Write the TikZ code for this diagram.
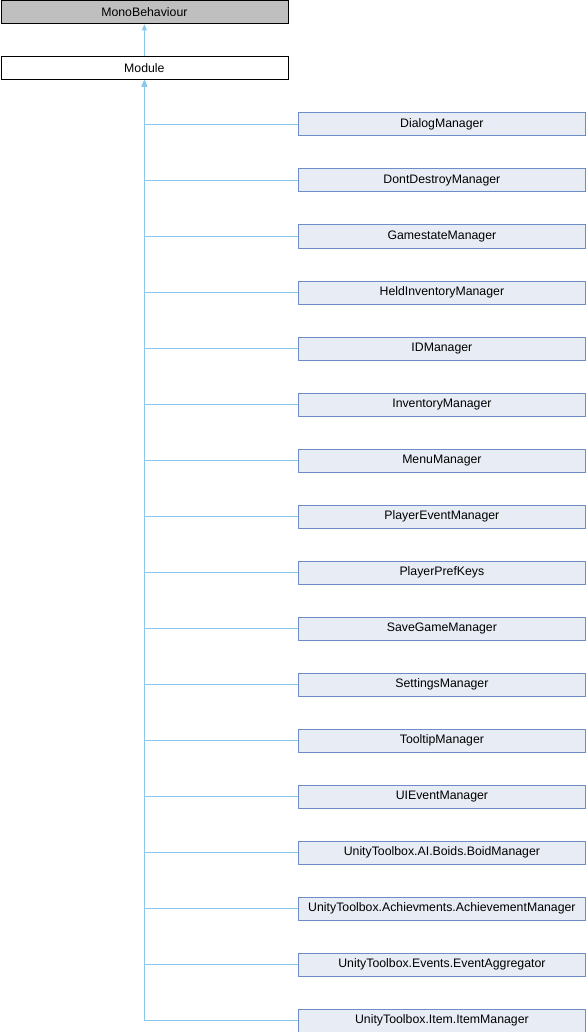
\documentclass[tikz,border=0pt]{standalone}
\usepackage{fontspec}
\setmainfont{Liberation Sans}
\usetikzlibrary{arrows.meta}
\definecolor{edgeblue}{RGB}{140,200,235}
\definecolor{classfill}{RGB}{232,236,244}
\definecolor{classdraw}{RGB}{110,140,200}
\definecolor{basefill}{RGB}{191,191,191}

\begin{document}
\begin{tikzpicture}[x=1pt, y=-1pt,
      every node/.append style={font=\fontsize{12.3}{14}\selectfont, inner sep=0pt,
        minimum width=287pt, minimum height=23pt, anchor=north west},
      inherit/.style={{Triangle[length=6pt,width=5pt]}-, draw=edgeblue, line width=0.8pt}]
    \tikzstyle{base} = [draw=black, fill=basefill, line width=0.8pt]
    \tikzstyle{cls} = [draw=black, fill=white, line width=0.8pt]
    \tikzstyle{derived} = [draw=classdraw, fill=classfill, line width=0.8pt]
    \useasboundingbox (0,0) rectangle (586,1032);
    \node [base] (MonoBehaviour) at (0.5,0.5) {MonoBehaviour};
    \node [cls] (Module) at (0.5,56.5) {Module};
    \draw [inherit] (MonoBehaviour) -- (Module);
    % derived managers
    \node [derived] (DialogManager) at (298,112.5) {DialogManager};
    \node [derived] (DontDestroyManager) at (298,168.5) {DontDestroyManager};
    \node [derived] (GamestateManager) at (298,224.5) {GamestateManager};
    \node [derived] (HeldInventoryManager) at (298,280.5) {HeldInventoryManager};
    \node [derived] (IDManager) at (298,336.5) {IDManager};
    \node [derived] (InventoryManager) at (298,392.5) {InventoryManager};
    \node [derived] (MenuManager) at (298,448.5) {MenuManager};
    \node [derived] (PlayerEventManager) at (298,504.5) {PlayerEventManager};
    \node [derived] (PlayerPrefKeys) at (298,560.5) {PlayerPrefKeys};
    \node [derived] (SaveGameManager) at (298,616.5) {SaveGameManager};
    \node [derived] (SettingsManager) at (298,672.5) {SettingsManager};
    \node [derived] (TooltipManager) at (298,728.5) {TooltipManager};
    \node [derived] (UIEventManager) at (298,784.5) {UIEventManager};
    \node [derived] (BoidManager) at (298,840.5) {UnityToolbox.AI.Boids.BoidManager};
    \node [derived] (AchievementManager) at (298,896.5) {UnityToolbox.Achievments.AchievementManager};
    \node [derived] (EventAggregator) at (298,952.5) {UnityToolbox.Events.EventAggregator};
    \node [derived] (ItemManager) at (298,1008.5) {UnityToolbox.Item.ItemManager};
    % inheritance edges
    \draw [inherit] (Module) |- (DialogManager);
    \draw [inherit] (Module) |- (DontDestroyManager);
    \draw [inherit] (Module) |- (GamestateManager);
    \draw [inherit] (Module) |- (HeldInventoryManager);
    \draw [inherit] (Module) |- (IDManager);
    \draw [inherit] (Module) |- (InventoryManager);
    \draw [inherit] (Module) |- (MenuManager);
    \draw [inherit] (Module) |- (PlayerEventManager);
    \draw [inherit] (Module) |- (PlayerPrefKeys);
    \draw [inherit] (Module) |- (SaveGameManager);
    \draw [inherit] (Module) |- (SettingsManager);
    \draw [inherit] (Module) |- (TooltipManager);
    \draw [inherit] (Module) |- (UIEventManager);
    \draw [inherit] (Module) |- (BoidManager);
    \draw [inherit] (Module) |- (AchievementManager);
    \draw [inherit] (Module) |- (EventAggregator);
    \draw [inherit] (Module) |- (ItemManager);
\end{tikzpicture}
\end{document}
